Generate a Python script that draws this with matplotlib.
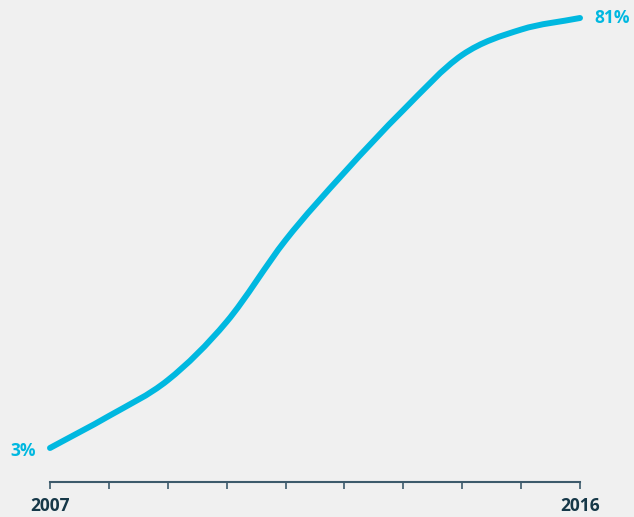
import matplotlib.pyplot as plt
from matplotlib.path import Path
from matplotlib.patches import PathPatch

years = [2007, 2008, 2009, 2010, 2011, 2012, 2013, 2014, 2015, 2016]
share = [3, 8.8, 15.3, 25.9, 40.7, 53, 64.3, 74.3, 78.9, 81]
shown_ticks = ['2007', '', '', '', '', '', '', '', '', '2016']

bg = '#f0f0f0'
blue = '#00b8e0'
dark = '#163848'

plt.rcParams['font.family'] = ['Open Sans', 'DejaVu Sans']


def smooth_path(x, y):
    # cubic bezier through the points, catmull-rom style tangents
    n = len(x)
    m = []
    for i in range(n):
        a = max(i - 1, 0)
        b = min(i + 1, n - 1)
        m.append((y[b] - y[a]) / (x[b] - x[a]))
    verts = [(x[0], y[0])]
    codes = [Path.MOVETO]
    for i in range(n - 1):
        dx = (x[i + 1] - x[i]) / 3
        verts += [(x[i] + dx, y[i] + m[i] * dx),
                  (x[i + 1] - dx, y[i + 1] - m[i + 1] * dx),
                  (x[i + 1], y[i + 1])]
        codes += [Path.CURVE4] * 3
    return Path(verts, codes)


fig = plt.figure(figsize=(6.34, 5.17), dpi=100, facecolor=bg)
W, H = 634, 517
ax = fig.add_axes([50 / W, (H - 482) / H, 530 / W, (482 - 18) / H])
ax.set_facecolor(bg)

ax.add_patch(PathPatch(smooth_path(years, share), fill=False, edgecolor=blue, lw=4.3,
                       capstyle='round', joinstyle='round', clip_on=False))
ax.set_xlim(years[0], years[-1])
ax.set_ylim(-3.17, 81)

for s in ['left', 'top', 'right']:
    ax.spines[s].set_visible(False)
ax.spines['bottom'].set_color('#3d5a6b')
ax.spines['bottom'].set_linewidth(1.5)
ax.set_yticks([])
ax.set_xticks(years)
ax.set_xticklabels(shown_ticks, fontsize=12.5, fontweight='bold', color=dark)
ax.tick_params(axis='x', length=5, width=1.2, color='#3d5a6b', pad=6)

ax.annotate(f'{share[0]}%', xy=(years[0], share[0]), xytext=(-10, -2), textcoords='offset points',
            ha='right', va='center', color=blue, fontsize=12.5, fontweight='bold')
ax.annotate(f'{share[-1]}%', xy=(years[-1], share[-1]), xytext=(10, 0), textcoords='offset points',
            ha='left', va='center', color=blue, fontsize=12.5, fontweight='bold', annotation_clip=False)

fig.savefig('out.png', dpi=100, facecolor=bg)
